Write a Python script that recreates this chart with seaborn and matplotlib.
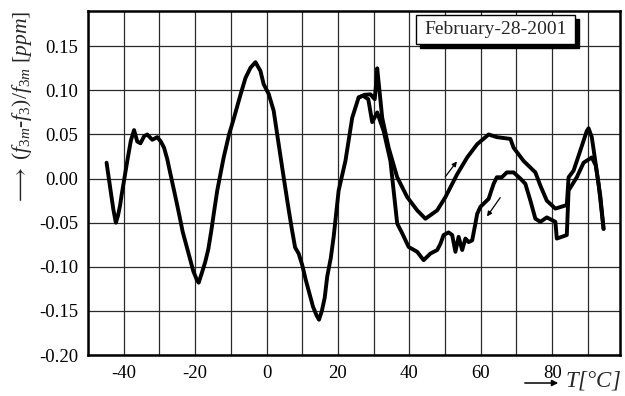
import numpy as np
import pandas as pd
import matplotlib
matplotlib.use("Agg")
import matplotlib.pyplot as plt
from matplotlib.patches import Rectangle
from matplotlib.ticker import MultipleLocator, FormatStrFormatter
import seaborn as sns

# ---- data ----
heat_T = [-44.8, -43.8, -42.9, -42.2, -41.6, -41.0, -40.6, -39.9, -39.0, -38.0,
          -37.1, -36.2, -35.3, -34.3, -33.4, -32.0, -30.6, -29.6, -28.7, -27.8,
          -26.9, -25.5, -24.5, -23.5, -22.5, -21.5, -20.5, -19.5, -19.0, -18.2,
          -17.2, -16.3, -15.5, -14.6, -13.8, -12.0, -10.5, -9.1, -7.3, -5.9,
          -4.5, -3.1, -1.7, -0.8, 0.6, 2.0, 3.4, 4.8, 6.0, 7.0,
          8.0, 9.0, 10.0, 11.0, 12.0, 13.0, 14.0, 14.7, 15.5, 16.3,
          17.0, 18.0, 18.8, 20.2, 22.1, 24.0, 25.8, 27.5, 29.1, 30.3,
          30.8, 31.0, 32.4, 34.2, 36.6, 39.4, 42.2, 44.5, 47.8, 50.1,
          53.4, 56.2, 59.0, 62.2, 64.5, 68.3, 69.2, 72.0, 75.3, 76.7,
          78.5, 80.9, 84.1, 84.6, 86.0, 87.9, 89.7, 90.2, 91.1, 93.0, 94.4]
heat_y = [0.018, -0.010, -0.035, -0.050, -0.042, -0.030, -0.019, -0.002, 0.020, 0.043,
          0.055, 0.042, 0.040, 0.048, 0.050, 0.044, 0.047, 0.042, 0.035, 0.022,
          0.005, -0.021, -0.040, -0.060, -0.075, -0.090, -0.105, -0.115, -0.118, -0.108,
          -0.095, -0.080, -0.060, -0.035, -0.0135, 0.024, 0.050, 0.069, 0.095, 0.114,
          0.1256, 0.132, 0.122, 0.107, 0.096, 0.077, 0.039, 0.0015, -0.030, -0.055,
          -0.078, -0.085, -0.098, -0.115, -0.130, -0.145, -0.155, -0.160, -0.150, -0.135,
          -0.111, -0.090, -0.066, -0.0135, 0.020, 0.069, 0.092, 0.095, 0.0955, 0.090,
          0.112, 0.125, 0.069, 0.035, 0.0015, -0.021, -0.036, -0.0455, -0.036, -0.021,
          0.005, 0.024, 0.039, 0.050, 0.047, 0.045, 0.035, 0.020, 0.007, -0.008,
          -0.025, -0.034, -0.030, 0.0015, 0.009, 0.032, 0.054, 0.057, 0.047, -0.006, -0.057]

cool_T = [94.4, 93.5, 92.2, 91.1, 88.8, 86.9, 84.6, 84.1, 81.3, 80.9,
          78.5, 76.7, 75.3, 73.9, 72.5, 71.1, 69.2, 67.3, 65.9, 64.5,
          63.6, 62.2, 59.9, 59.0, 58.5, 57.6, 56.6, 55.7, 54.8, 53.8,
          52.9, 52.0, 51.0, 49.6, 48.7, 47.8, 45.9, 44.0, 42.2, 39.8,
          38.0, 36.6, 34.7, 32.8, 31.0, 29.6, 28.5, 27.0, 25.8]
cool_y = [-0.057, -0.020, 0.015, 0.024, 0.018, 0.0015, -0.0135, -0.064, -0.068, -0.049,
          -0.044, -0.049, -0.0455, -0.025, -0.006, 0.000, 0.007, 0.007, 0.0015, 0.0015,
          -0.006, -0.023, -0.032, -0.040, -0.051, -0.070, -0.072, -0.068, -0.081, -0.066,
          -0.083, -0.064, -0.061, -0.064, -0.074, -0.081, -0.085, -0.0925, -0.083, -0.0775,
          -0.062, -0.051, 0.020, 0.054, 0.075, 0.064, 0.090, 0.094, 0.092]

legend_text = "February-28-2001"

# ---- style ----
sns.set_style("white")
plt.rcParams["font.family"] = ["Liberation Serif", "DejaVu Serif"]
plt.rcParams["mathtext.fontset"] = "custom"
plt.rcParams["mathtext.rm"] = "Liberation Serif"
plt.rcParams["mathtext.it"] = "Liberation Serif:italic"
plt.rcParams["axes.unicode_minus"] = False

fig = plt.figure(figsize=(6.25, 3.96), dpi=100)
ax = fig.add_axes([88 / 625, 1 - 355 / 396, (620 - 88) / 625, (355 - 11) / 396])

df_h = pd.DataFrame({"T": heat_T, "y": heat_y, "branch": "heating"})
df_c = pd.DataFrame({"T": cool_T, "y": cool_y, "branch": "cooling"})
for d in (df_h, df_c):
    sns.lineplot(data=d, x="T", y="y", sort=False, estimator=None, color="black",
                 linewidth=2.8, ax=ax, legend=False, zorder=3)

ax.set_xlim(-50, 99)
ax.set_ylim(-0.20, 0.19)
ax.xaxis.set_major_locator(MultipleLocator(20))
ax.xaxis.set_minor_locator(MultipleLocator(10))
ax.yaxis.set_major_locator(MultipleLocator(0.05))
ax.yaxis.set_minor_locator(MultipleLocator(0.025))
ax.yaxis.set_major_formatter(FormatStrFormatter("%.2f"))
ax.xaxis.set_major_formatter(FormatStrFormatter("%d"))

ax.grid(True, which="major", axis="both", color="#2a2a2a", linewidth=0.9)
ax.grid(True, which="minor", axis="x", color="#2a2a2a", linewidth=0.9)
ax.set_axisbelow(True)

ax.tick_params(axis="both", which="major", direction="out", length=4, width=1.2,
               labelsize=13.5, colors="black", pad=3)
ax.tick_params(axis="y", which="minor", direction="in", length=3, width=1)
ax.tick_params(axis="x", which="minor", direction="out", length=3, width=1)
for s in ax.spines.values():
    s.set_linewidth(1.8)
    s.set_color("black")
ax.set_xlabel("")
ax.set_ylabel("")

# direction arrows
ax.annotate("", xy=(53.8, 0.022), xytext=(49.6, -0.0004),
            arrowprops=dict(arrowstyle="-|>", color="black", lw=0.9, mutation_scale=7))
ax.annotate("", xy=(61.3, -0.0455), xytext=(65.9, -0.019),
            arrowprops=dict(arrowstyle="-|>", color="black", lw=0.9, mutation_scale=7))

# legend-like box with shadow
bx, by, bw, bh = 416 / 625, 1 - 44 / 396, 159 / 625, 29 / 396
fig.add_artist(Rectangle((bx + 4 / 625, by - 4 / 396), bw, bh, transform=fig.transFigure,
                         facecolor="black", edgecolor="black", zorder=5))
fig.add_artist(Rectangle((bx, by), bw, bh, transform=fig.transFigure,
                         facecolor="white", edgecolor="black", linewidth=1, zorder=6))
fig.text(bx + bw / 2, by + bh / 2, legend_text, ha="center", va="center",
         fontsize=14, zorder=7)

# axis labels
fig.text(22 / 625, 1 - 108 / 396,
         r"$\longrightarrow\ (f_{3m}$-$f_{3})/f_{3m}\ [ppm]$",
         rotation=90, ha="center", va="center", fontsize=15.6, style="italic")
fig.text(565 / 625, 1 - 387 / 396, r"$T$[°C]", ha="left", va="baseline",
         fontsize=16.5, style="italic")
fig.add_artist(matplotlib.patches.FancyArrowPatch(
    (522 / 625, 1 - 383 / 396), (561 / 625, 1 - 383 / 396), transform=fig.transFigure,
    arrowstyle="-|>", mutation_scale=9, color="black", lw=1.1))

fig.savefig("out.png", dpi=100)
